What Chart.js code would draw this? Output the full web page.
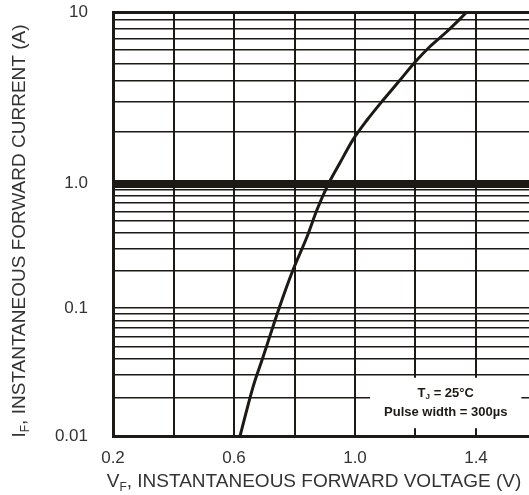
<!DOCTYPE html>
<html>
<head>
<meta charset="utf-8">
<script src="https://cdn.jsdelivr.net/npm/chart.js@4.4.0/dist/chart.umd.min.js"></script>
<style>
  html, body { margin: 0; padding: 0; background: #fff; overflow: hidden; }
</style>
</head>
<body>
<canvas id="chart" width="540" height="495"></canvas>
<script>
// typical forward characteristic
const voltage = [0.62, 0.663, 0.696, 0.736, 0.762, 0.795, 0.841, 0.874, 0.907, 0.95, 0.993, 1.04, 1.093, 1.149, 1.198, 1.248, 1.304, 1.37];
const current = [0.01, 0.0242, 0.0414, 0.0806, 0.1226, 0.202, 0.372, 0.614, 0.94, 1.32, 1.80, 2.35, 3.07, 4.02, 5.1, 6.3, 7.7, 10];

const xTickValues = [0.2, 0.6, 1.0, 1.4];
const yTickValues = [0.01, 0.1, 1, 10];
const yTickText = ["0.01", "0.1", "1.0", "10"];

const ink = "#1d1915";
const textInk = "#333333";
const font = '"Liberation Sans", Arial, sans-serif';
const narrow = '"Liberation Sans Narrow", "Arial Narrow", ' + font;

// the printed decades are not equally tall, so stretch the log scale piecewise
const decadeLogs = [-2, -1, 0, 1];
const decadeStops = [0, 0.302, 0.595, 1];

class StretchedLog extends Chart.LogarithmicScale {
  static id = "stretchedLog";
  static defaults = Chart.LogarithmicScale.defaults;

  toDecimal(value) {
    const l = Math.log10(value);
    let i = 1;
    while (i < decadeLogs.length - 1 && l > decadeLogs[i]) i++;
    const t = (l - decadeLogs[i - 1]) / (decadeLogs[i] - decadeLogs[i - 1]);
    return decadeStops[i - 1] + t * (decadeStops[i] - decadeStops[i - 1]);
  }
  getPixelForValue(value) {
    if (value === undefined || value === 0) value = this.min;
    if (value === null || isNaN(value)) return NaN;
    return this.getPixelForDecimal(this.toDecimal(value));
  }
  getValueForPixel(pixel) {
    const d = this.getDecimalForPixel(pixel);
    let i = 1;
    while (i < decadeStops.length - 1 && d > decadeStops[i]) i++;
    const t = (d - decadeStops[i - 1]) / (decadeStops[i] - decadeStops[i - 1]);
    return Math.pow(10, decadeLogs[i - 1] + t * (decadeLogs[i] - decadeLogs[i - 1]));
  }
}
Chart.register(StretchedLog);

// every 1..9 line of each decade
const yGrid = [];
for (let e = -2; e < 1; e++) {
  for (let k = 1; k < 10; k++) yGrid.push(+(k * Math.pow(10, e)).toPrecision(2));
}
yGrid.push(10);

// draw main text + small subscript + rest, centred on 0,0
function drawSubTitle(ctx, main, sub, rest, size, fam, weight) {
  const big = weight + " " + size + "px " + fam;
  const small = weight + " " + Math.round(size * 0.65) + "px " + fam;
  ctx.font = big;
  const w1 = ctx.measureText(main).width;
  const w3 = ctx.measureText(rest).width;
  ctx.font = small;
  const w2 = ctx.measureText(sub).width;
  let x = -(w1 + w2 + w3) / 2;
  ctx.font = big;
  ctx.fillText(main, x, 0);
  x += w1;
  ctx.font = small;
  ctx.fillText(sub, x, size * 0.3);
  x += w2;
  ctx.font = big;
  ctx.fillText(rest, x, 0);
}

const extras = {
  id: "extras",
  beforeDatasetsDraw(chart) {
    const { ctx, scales } = chart;
    const l = scales.x.getPixelForValue(1.05), r = scales.x.getPixelForValue(1.55);
    const t = scales.y.getPixelForValue(0.0285), b = scales.y.getPixelForValue(0.0115);
    ctx.save();
    ctx.fillStyle = "#fff";
    ctx.fillRect(l, t, r - l, b - t);
    ctx.fillStyle = ink;
    ctx.textBaseline = "middle";
    ctx.textAlign = "left";
    const cx = (l + r) / 2, cy = (t + b) / 2;
    ctx.translate(cx, cy - 10);
    drawSubTitle(ctx, "T", "J", " = 25\u00B0C", 13, narrow, "bold");
    ctx.translate(0, 19);
    ctx.font = "bold 13px " + narrow;
    ctx.textAlign = "center";
    ctx.fillText("Pulse width = 300\u00B5s", 0, 0);
    ctx.restore();
  },
  afterDraw(chart) {
    const { ctx, chartArea } = chart;
    ctx.save();
    ctx.fillStyle = textInk;
    ctx.textBaseline = "middle";
    ctx.textAlign = "left";
    ctx.save();
    ctx.translate(20, 231);
    ctx.rotate(-Math.PI / 2);
    drawSubTitle(ctx, "I", "F", ", INSTANTANEOUS FORWARD CURRENT (A)", 19, font, "normal");
    ctx.restore();
    ctx.translate(chartArea.left + 201, 482);
    drawSubTitle(ctx, "V", "F", ", INSTANTANEOUS FORWARD VOLTAGE (V)", 19, font, "normal");
    ctx.restore();
  }
};

new Chart(document.getElementById("chart"), {
  type: "line",
  data: {
    datasets: [{
      data: voltage.map((v, i) => ({ x: v, y: current[i] })),
      borderColor: ink,
      borderWidth: 3,
      pointRadius: 0,
      cubicInterpolationMode: "monotone",
      fill: false
    }]
  },
  options: {
    responsive: false,
    animation: false,
    layout: { padding: { top: 12, right: 3.5, left: 0, bottom: 0 } },
    plugins: { legend: { display: false }, tooltip: { enabled: false } },
    scales: {
      x: {
        type: "linear",
        min: 0.2,
        max: 1.6,
        afterFit: axis => {
          axis.height = 59;
          axis.paddingLeft = 0;
          axis.paddingRight = 0;
        },
        ticks: {
          stepSize: 0.2,
          autoSkip: false,
          maxRotation: 0,
          padding: 12,
          color: textInk,
          font: { size: 17, family: font },
          callback: v => xTickValues.some(t => Math.abs(t - v) < 1e-6) ? v.toFixed(1) : ""
        },
        grid: { color: ink, lineWidth: 2, drawTicks: false },
        border: { color: ink, width: 3 }
      },
      y: {
        type: "stretchedLog",
        min: 0.01,
        max: 10,
        afterFit: axis => {
          axis.width = 113;
          axis.paddingTop = 0;
          axis.paddingBottom = 0;
        },
        afterBuildTicks: axis => { axis.ticks = yGrid.map(v => ({ value: v })); },
        ticks: {
          autoSkip: false,
          padding: 25,
          color: textInk,
          font: { size: 17, family: font },
          callback: v => {
            const i = yTickValues.findIndex(t => Math.abs(t - v) < 1e-9);
            return i < 0 ? "" : yTickText[i];
          }
        },
        grid: {
          color: ink,
          drawTicks: false,
          lineWidth: c => c.tick && c.tick.value === 1 ? 8 : (c.tick && c.tick.value === 10 ? 3 : 1.5)
        },
        border: { color: ink, width: 3 }
      }
    }
  },
  plugins: [extras]
});
</script>
</body>
</html>
